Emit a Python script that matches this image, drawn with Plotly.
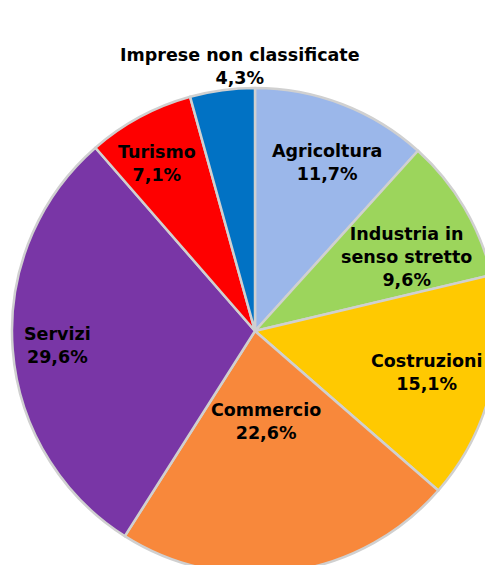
import plotly.graph_objects as go
import math

labels = ["Agricoltura", "Industria in<br>senso stretto", "Costruzioni", "Commercio",
          "Servizi", "Turismo", "Imprese non classificate"]
values = [11.7, 9.6, 15.1, 22.6, 29.6, 7.1, 4.3]
colors = ["#9BB7EA", "#9CD55C", "#FFC901", "#F8883B", "#7936A6", "#FE0000", "#0172C4"]
# label placement (style): radial fraction of radius and angular nudge in degrees
label_r = [0.754, 0.692, 0.728, 0.375, 0.813, 0.799, 1.092]
label_da = [2.0, 4.5, -0.3, 1.4, 0.1, -2.0, 4.5]

W, H = 500, 580
cx, cy, R = 255, 331, 243  # pixel centre / radius of the pie

fig = go.Figure(go.Pie(
    labels=labels, values=values, sort=False, direction="clockwise", rotation=0,
    marker=dict(colors=colors, line=dict(color="#D0D0D0", width=2.5)),
    textinfo="none", hoverinfo="label+percent", showlegend=False,
    domain=dict(x=[(cx - R) / W, (cx + R) / W], y=[1 - (cy + R) / H, 1 - (cy - R) / H]),
))

total = sum(values)
cum = 0
for lab, v, fr, da in zip(labels, values, label_r, label_da):
    mid = (cum + v / 2) / total * 2 * math.pi + math.radians(da)
    cum += v
    px = cx + fr * R * math.sin(mid)
    py = cy - fr * R * math.cos(mid)
    lines = (lab + "<br>" + str(v).replace(".", ",") + "%").split("<br>")
    txt = "<br>".join("<b>" + s + "</b>" for s in lines)
    fig.add_annotation(x=px / W, y=1 - py / H, xref="paper", yref="paper",
                       text=txt, showarrow=False, xanchor="center", yanchor="middle",
                       font=dict(family="DejaVu Sans", size=17.5, color="#000000"),
                       align="center")

fig.update_layout(width=W, height=H, margin=dict(l=0, r=0, t=0, b=0),
                  paper_bgcolor="white", plot_bgcolor="white")

fig.write_html("out.html", config={"displayModeBar": False},
               post_script="document.documentElement.style.overflow='hidden';"
                           "document.body.style.overflow='hidden';document.body.style.margin='0';")
